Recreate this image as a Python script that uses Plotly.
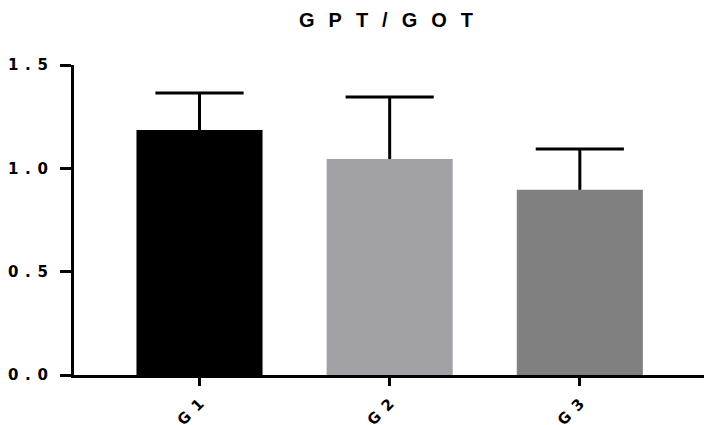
import plotly.graph_objects as go

categories = ["G1", "G2", "G3"]
means = [1.185, 1.045, 0.896]
sem_up = [0.179, 0.300, 0.198]
bar_colors = ["#000000", "#A2A1A6", "#808080"]
y_tick_vals = [0.0, 0.5, 1.0, 1.5]
y_tick_labels = ["0.0", "0.5", "1.0", "1.5"]
title_text = "GPT/GOT"


def spaced(s, sep):
    return sep.join(list(s))


FONT = "Liberation Sans, Arial, Helvetica, sans-serif"
TICKFONT = "DejaVu Sans, Liberation Sans, sans-serif"
tops = [m + e for m, e in zip(means, sem_up)]

fig = go.Figure()
fig.add_trace(go.Bar(
    x=categories,
    y=means,
    width=0.663,
    marker=dict(color=bar_colors, line=dict(width=0)),
    error_y=dict(type="data", symmetric=False, array=sem_up,
                 arrayminus=[0] * len(sem_up),
                 thickness=3, width=0, color="black"),
))
# error-bar caps (top only)
fig.add_trace(go.Scatter(
    x=categories, y=tops, mode="markers", hoverinfo="skip",
    marker=dict(symbol="line-ew", size=63, color="black",
                line=dict(width=3, color="black")),
))

fig.update_layout(
    width=705, height=425,
    margin=dict(l=74, r=1, t=65, b=50),
    paper_bgcolor="white", plot_bgcolor="white",
    showlegend=False,
    title=dict(text="<b>" + spaced(title_text, "\u2002\u2009") + "</b>",
               x=386 / 705, xanchor="center",
               xref="container", yref="container", y=1 - 19.5 / 425,
               yanchor="middle", automargin=False,
               font=dict(family=FONT, size=20, color="black")),
    xaxis=dict(
        range=[-0.66, 2.653],
        automargin=False,
        tickmode="array", tickvals=categories,
        ticktext=["<b>" + spaced(c, "\u2002") + "</b>" for c in categories],
        tickangle=-45,
        showline=True, linewidth=3, linecolor="black",
        ticks="outside", ticklen=8, tickwidth=3, tickcolor="black",
        ticklabelstandoff=3,
        tickfont=dict(family=TICKFONT, size=15, color="black"),
        showgrid=False, zeroline=False, fixedrange=True,
    ),
    yaxis=dict(
        range=[0, 1.5],
        automargin=False,
        tickmode="array", tickvals=y_tick_vals,
        ticktext=["<b>" + spaced(t, "\u2005\u2009") + "</b>"
                  for t in y_tick_labels],
        showline=True, linewidth=3, linecolor="black",
        ticks="outside", ticklen=11, tickwidth=3, tickcolor="black",
        ticklabelstandoff=9,
        tickfont=dict(family=TICKFONT, size=15, color="black"),
        showgrid=False, zeroline=False, fixedrange=True,
    ),
)

fig.write_html("out.html",
               config={"displayModeBar": False},
               post_script="document.body.style.margin='0';"
                           "document.body.style.overflow='hidden';")
